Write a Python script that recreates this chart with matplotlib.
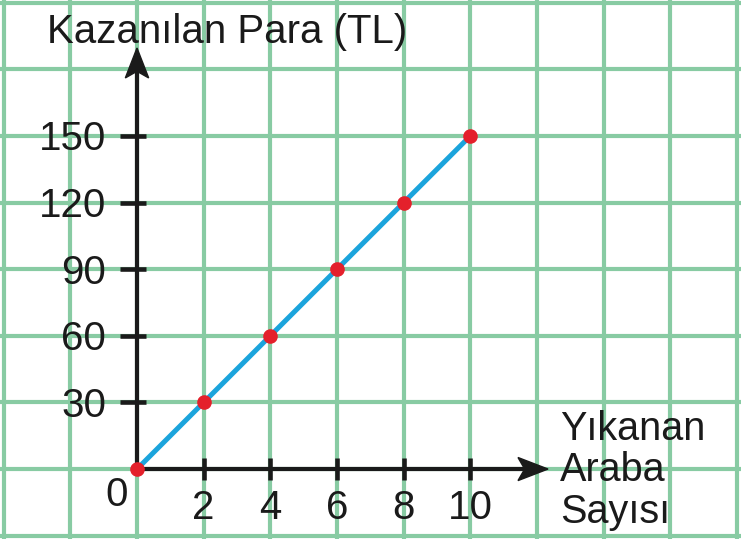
import matplotlib.pyplot as plt
from matplotlib.patches import Polygon
import numpy as np

# Araba yikama: kazanilan para grafigi
arabalar = [0, 2, 4, 6, 8, 10]
para = [0, 30, 60, 90, 120, 150]
x_ticks = [2, 4, 6, 8, 10]
y_ticks = [30, 60, 90, 120, 150]
baslik = 'Kazanılan Para (TL)'
x_etiket = ['Yıkanan', 'Araba', 'Sayısı']

plt.rcParams['font.family'] = ['Liberation Sans', 'DejaVu Sans']

yesil = '#88cba3'
mavi = '#1ba4dc'
kirmizi = '#e4202b'
siyah = '#1a1a1a'

fig = plt.figure(figsize=(7.41, 5.39), dpi=100)
ax = fig.add_axes([0, 0, 1, 1])
ax.set_xlim(-4.11, 18.12)
ax.set_ylim(-31.5, 211.2)
ax.axis('off')

# kareli kagit
for gx in np.arange(-4, 19, 2):
    ax.axvline(gx, color=yesil, lw=3, zorder=2)
for gy in np.arange(-30, 211, 30):
    ax.axhline(gy, color=yesil, lw=3, zorder=2)

# eksenler
x_uc = 12.33
y_uc = 189.6
ax.plot([0, x_uc - 0.5], [0, 0], color=siyah, lw=3, zorder=3, solid_capstyle='butt')
ax.plot([0, 0], [0, y_uc - 6], color=siyah, lw=3, zorder=3, solid_capstyle='butt')
# ok uclari
ax.add_patch(Polygon([[x_uc, 0], [x_uc - 0.9, 5.2], [x_uc - 0.7, 0], [x_uc - 0.9, -5.2]],
                     closed=True, color=siyah, zorder=3))
ax.add_patch(Polygon([[0, y_uc], [-0.35, y_uc - 13.5], [0, y_uc - 10.5], [0.35, y_uc - 13.5]],
                     closed=True, color=siyah, zorder=3))

for t in x_ticks:
    ax.plot([t, t], [-5, 5], color=siyah, lw=3.3, zorder=3, solid_capstyle='butt')
    ax.text(t, -22.7, str(t), fontsize=29, ha='center', va='baseline', color=siyah, zorder=6)
for t in y_ticks:
    ax.plot([-0.51, 0.27], [t, t], color=siyah, lw=3.3, zorder=3, solid_capstyle='butt')
    ax.text(-0.93, t - 6.5, str(t), fontsize=29, ha='right', va='baseline', color=siyah, zorder=6)
ax.text(-0.6, -16.7, '0', fontsize=29, ha='center', va='baseline', color=siyah, zorder=6)

# veri
ax.plot(arabalar, para, color=mavi, lw=3.6, zorder=4)
ax.plot(arabalar, para, 'o', color=kirmizi, ms=9.5, zorder=5)

# basliklar
ax.text(-2.7, 191.9, baslik, fontsize=29, ha='left', va='baseline', color=siyah, zorder=6)
for i, satir in enumerate(x_etiket):
    ax.text(12.69, 13.1 - i * 18.6, satir, fontsize=28.5, ha='left', va='baseline',
            color=siyah, zorder=6)

plt.savefig('out.png', dpi=100)
